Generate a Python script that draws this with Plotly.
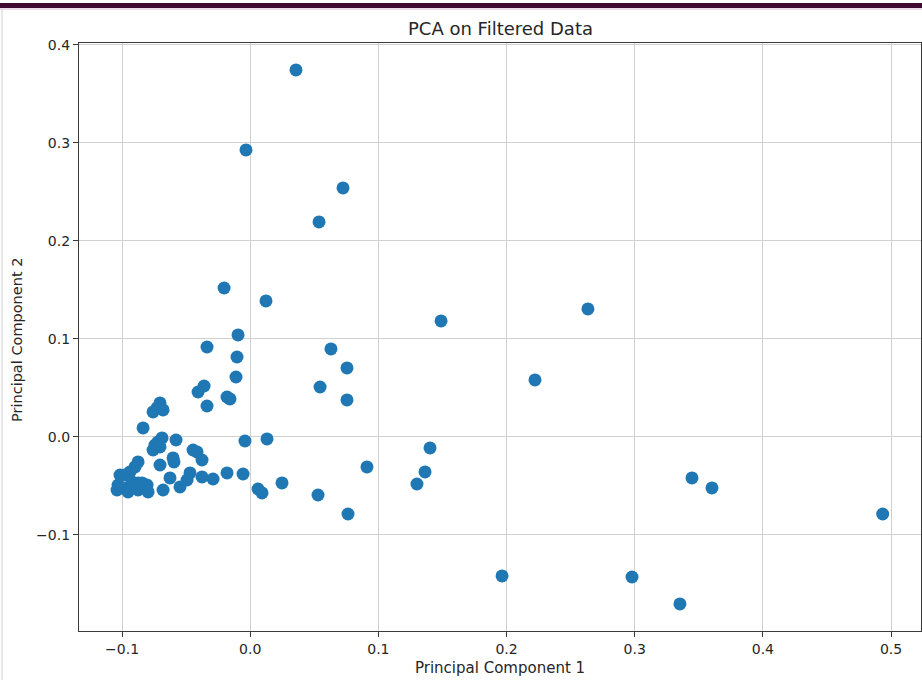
import plotly.graph_objects as go

# Projected sample coordinates on the first two principal components
pc1 = [
    0.0357, -0.0033, 0.0724, 0.0537, -0.0204, 0.0123, 0.2635, 0.1489,
    -0.0095, -0.0337, 0.0630, -0.0103, 0.0755, -0.0111, 0.2222, 0.0545,
    -0.0360, -0.0407, -0.0181, -0.0158, 0.0755, -0.0337, -0.0041, 0.0131,
    0.1403, 0.0911, 0.1364, 0.1301, 0.0248, 0.0529, 0.0061, 0.0092,
    0.0763, 0.3447, 0.3603, 0.4935, 0.1965, 0.2979, 0.3353,
    -0.0704, -0.0727, -0.0758, -0.0680, -0.0836, -0.0688, -0.0579, -0.0719,
    -0.0743, -0.0704, -0.0758, -0.0602, -0.0595, -0.0704, -0.0875, -0.0899,
    -0.0938, -0.1016, -0.0977, -0.1031, -0.1039, -0.0992, -0.0953, -0.0922,
    -0.0875, -0.0844, -0.0805, -0.0875, -0.0797, -0.0680, -0.0626, -0.0548,
    -0.0446, -0.0415, -0.0376, -0.0470, -0.0493, -0.0376, -0.0290, -0.0181,
    -0.0056,
]
pc2 = [
    0.3745, 0.2929, 0.2541, 0.2194, 0.1520, 0.1388, 0.1306, 0.1184,
    0.1041, 0.0918, 0.0898, 0.0816, 0.0704, 0.0612, 0.0582, 0.0510,
    0.0520, 0.0459, 0.0408, 0.0388, 0.0378, 0.0316, -0.0041, -0.0020,
    -0.0112, -0.0306, -0.0357, -0.0480, -0.0469, -0.0592, -0.0531, -0.0571,
    -0.0786, -0.0418, -0.0520, -0.0786, -0.1418, -0.1429, -0.1704,
    0.0347, 0.0296, 0.0255, 0.0276, 0.0092, -0.0010, -0.0031, -0.0051,
    -0.0082, -0.0102, -0.0133, -0.0214, -0.0255, -0.0286, -0.0255, -0.0306,
    -0.0357, -0.0388, -0.0388, -0.0490, -0.0541, -0.0520, -0.0561, -0.0459,
    -0.0469, -0.0469, -0.0490, -0.0541, -0.0561, -0.0541, -0.0418, -0.0510,
    -0.0133, -0.0153, -0.0235, -0.0367, -0.0439, -0.0408, -0.0429, -0.0367,
    -0.0378,
]

x_ticks = [-0.1, 0.0, 0.1, 0.2, 0.3, 0.4, 0.5]
y_ticks = [-0.1, 0.0, 0.1, 0.2, 0.3, 0.4]

W, H = 922, 680
L, R, T, B = 79, 1, 43, 49
pw, ph = W - L - R, H - T - B

def px_x(px):
    return (px - L) / pw

def px_y(py):
    return (H - B - py) / ph

FONT = "DejaVu Sans"
TEXT = "#262626"
SPINE = "#3a3a3a"
GRID = "#d0d0d0"

fig = go.Figure(
    go.Scatter(
        x=pc1, y=pc2, mode="markers",
        marker=dict(color="#1f77b4", size=13, line=dict(width=0)),
        hoverinfo="x+y",
    )
)

axis_common = dict(
    showgrid=True, gridcolor=GRID, gridwidth=1.2,
    showline=True, linecolor=SPINE, linewidth=1.3, mirror=True,
    ticks="outside", ticklen=5, tickcolor=SPINE, tickwidth=1,
    tickformat=".1f", zeroline=False,
    tickfont=dict(family=FONT, size=14, color=TEXT),
)

fig.update_xaxes(range=[-0.1336, 0.5234], tickvals=x_ticks, **axis_common)
fig.update_yaxes(range=[-0.198, 0.402], tickvals=y_ticks, **axis_common)

fig.update_layout(
    width=W, height=H,
    margin=dict(l=L, r=R, t=T, b=B, pad=0),
    paper_bgcolor="white", plot_bgcolor="white",
    showlegend=False,
    font=dict(family=FONT, color=TEXT),
    shapes=[
        # dark band across the top edge
        dict(type="rect", xref="paper", yref="paper",
             x0=px_x(-2), x1=px_x(W + 2), y0=px_y(8), y1=px_y(3),
             fillcolor="#3e0b33", line=dict(width=0), layer="above"),
        dict(type="line", xref="paper", yref="paper",
             x0=px_x(0), x1=px_x(W), y0=px_y(9), y1=px_y(9),
             line=dict(color="#d9bdd2", width=1)),
        # thin frame on the left edge
        dict(type="line", xref="paper", yref="paper",
             x0=px_x(2), x1=px_x(2), y0=px_y(H), y1=px_y(9),
             line=dict(color="#cfcfcf", width=1)),
    ],
    annotations=[
        dict(text="PCA on Filtered Data", xref="paper", yref="paper",
             x=0.5, y=px_y(28), xanchor="center", yanchor="middle",
             showarrow=False, font=dict(family=FONT, size=18, color=TEXT)),
        dict(text="Principal Component 1", xref="paper", yref="paper",
             x=0.5, y=px_y(668), xanchor="center", yanchor="middle",
             showarrow=False, font=dict(family=FONT, size=15, color=TEXT)),
        dict(text="Principal Component 2", xref="paper", yref="paper",
             x=px_x(17), y=px_y(340), xanchor="center", yanchor="middle",
             textangle=-90, showarrow=False,
             font=dict(family=FONT, size=14.5, color=TEXT)),
    ],
)

fig.write_html("out.html")
